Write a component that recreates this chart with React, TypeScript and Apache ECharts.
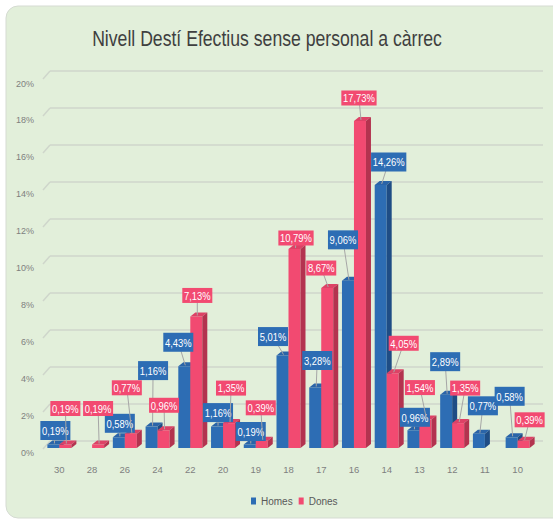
import React, { useEffect, useRef } from "react";
import * as echarts from "echarts";

const categories = ["30", "28", "26", "24", "22", "20", "19", "18", "17", "16", "14", "13", "12", "11", "10"];
const homes = [0.19, 0, 0.58, 1.16, 4.43, 1.16, 0.19, 5.01, 3.28, 9.06, 14.26, 0.96, 2.89, 0.77, 0.58];
const dones = [0.19, 0.19, 0.77, 0.96, 7.13, 1.35, 0.39, 10.79, 8.67, 17.73, 4.05, 1.54, 1.35, 0, 0.39];
const yTicks = [0, 2, 4, 6, 8, 10, 12, 14, 16, 18, 20];

// label box offsets relative to each bar's top centre (layout only)
const homesLabelOffsets = [[2, -14], [0, 0], [1, -14], [1.5, -56], [-6, -24], [1, -14], [1, -13], [-9.5, -19], [2, -27], [-5, -41], [8, -23], [1.5, -13], [-1, -33], [4, -28], [-2, -41]];
const donesLabelOffsets = [[0, -36], [0, -36], [-4, -46], [0.5, -25], [1, -21], [2, -35], [-1, -33], [1.5, -11], [-6, -20], [-1, -23], [11, -30], [-5.5, -32], [7, -35], [0, 0], [6, -21]];

const FONT = "'Liberation Sans', Arial, sans-serif";
const NARROW = 0.82;
const BAR_W = 12;
const DX = 5;
const DY = -4;

const BLUE = { front: "#2d6db4", top: "#2a64a8", side: "#1f4d85" };
const PINK = { front: "#f24a71", top: "#dd4266", side: "#b3334f" };
const GRID_COLOR = "#cfd6cb";

const fmt = (v: number) => v.toFixed(2).replace(".", ",") + "%";

function barSeries(name: string, values: number[], col: typeof BLUE, z: number) {
  return {
    name,
    type: "bar",
    z,
    barWidth: BAR_W,
    barGap: "0%",
    itemStyle: { color: col.front },
    data: values,
  };
}

function faceSeries(name: string, values: number[], col: typeof BLUE, shift: number, z: number) {
  return {
    name: name + " 3d",
    type: "custom",
    z,
    silent: true,
    data: values.map((v, i) => [i, v]),
    encode: { x: 0, y: 1 },
    renderItem: (params: any, api: any) => {
      const v = api.value(1);
      if (!v) return null;
      const top = api.coord([api.value(0), v]);
      const base = api.coord([api.value(0), 0]);
      const x0 = top[0] + shift;
      const t = top[1];
      const b = base[1];
      return {
        type: "group",
        children: [
          {
            type: "polygon",
            shape: { points: [[x0, t], [x0 + BAR_W, t], [x0 + BAR_W + DX, t + DY], [x0 + DX, t + DY]] },
            style: { fill: col.top },
          },
          {
            type: "polygon",
            shape: { points: [[x0 + BAR_W, t], [x0 + BAR_W + DX, t + DY], [x0 + BAR_W + DX, b + DY], [x0 + BAR_W, b]] },
            style: { fill: col.side },
          },
        ],
      };
    },
  };
}

function labelSeries(name: string, values: number[], col: typeof BLUE, shift: number, offsets: number[][], pad: number[]) {
  return {
    name: name + " labels",
    type: "custom",
    z: 10,
    silent: true,
    data: values.map((v, i) => [i, v]),
    encode: { x: 0, y: 1 },
    renderItem: (params: any, api: any) => {
      const v = api.value(1);
      if (!v) return null;
      const i = api.value(0);
      const top = api.coord([i, v]);
      const bx = top[0] + shift + BAR_W / 2;
      const o = offsets[i];
      const lx = bx + o[0];
      const ly = top[1] + o[1];
      return {
        type: "group",
        children: [
          {
            type: "line",
            shape: { x1: bx + 1, y1: top[1] - 1, x2: lx, y2: ly },
            style: { stroke: "#a6a6a6", lineWidth: 1 },
          },
          {
            type: "text",
            x: lx,
            y: ly,
            scaleX: NARROW,
            style: {
              text: fmt(v),
              fill: "#ffffff",
              fontFamily: FONT,
              fontSize: 11.5,
              backgroundColor: col.front,
              padding: pad,
              align: "center",
              verticalAlign: "middle",
            },
          },
        ],
      };
    },
  };
}

// slanted left ends of the back-wall gridlines (perspective)
const wallSeries = {
  name: "wall",
  type: "custom",
  xAxisIndex: 1,
  yAxisIndex: 1,
  z: 1,
  silent: true,
  data: yTicks.map((t) => [0, t]),
  encode: { x: 0, y: 1 },
  renderItem: (params: any, api: any) => {
    const p = api.coord([0, api.value(1)]);
    const left = params.coordSys.x;
    return {
      type: "line",
      shape: { x1: left - 7, y1: p[1] + 8, x2: left, y2: p[1] },
      style: { stroke: GRID_COLOR, lineWidth: 1.5 },
    };
  },
};

export default function App() {
  const ref = useRef<HTMLDivElement>(null);
  useEffect(() => {
    if (!ref.current) return;
    const chart = echarts.init(ref.current, null, { renderer: "svg" });
    chart.setOption({
      animation: false,
      backgroundColor: "#ffffff",
      graphic: [
        {
          type: "rect",
          z: -10,
          shape: { x: 6, y: 6, width: 570, height: 512, r: 12 },
          style: { fill: "#e2efda", stroke: "#d5dbd2", lineWidth: 1 },
        },
        {
          type: "text",
          z: 10,
          x: 267,
          y: 38,
          scaleX: NARROW,
          style: {
            text: "Nivell Destí Efectius sense personal a càrrec",
            fontFamily: FONT,
            fontSize: 21.5,
            fill: "#3f3f3f",
            align: "center",
            verticalAlign: "middle",
          },
        },
      ],
      legend: {
        data: ["Homes", "Dones"],
        left: 246,
        top: 491,
        itemWidth: 5,
        itemHeight: 7,
        itemGap: 6,
        icon: "rect",
        textStyle: { fontFamily: FONT, fontSize: 10, color: "#595959" },
      },
      grid: [
        { left: 43, right: 19, top: 79, bottom: 72 },
        { left: 50, right: 10, top: 71, bottom: 79 },
      ],
      xAxis: [
        {
          type: "category",
          gridIndex: 0,
          data: categories,
          axisLine: { show: false },
          axisTick: { show: false },
          axisLabel: { fontFamily: FONT, fontSize: 9.5, color: "#7f7f7f", margin: 16 },
        },
        { type: "category", gridIndex: 1, data: categories, show: false },
      ],
      yAxis: [
        {
          type: "value",
          gridIndex: 0,
          min: yTicks[0],
          max: yTicks[yTicks.length - 1],
          interval: 2,
          splitLine: { show: false },
          axisLine: { show: false },
          axisTick: { show: false },
          axisLabel: {
            formatter: "{value}%",
            fontFamily: FONT,
            fontSize: 9,
            color: "#7f7f7f",
            margin: 9,
            verticalAlign: "top",
          },
        },
        {
          type: "value",
          gridIndex: 1,
          min: yTicks[0],
          max: yTicks[yTicks.length - 1],
          interval: 2,
          axisLabel: { show: false },
          axisLine: { show: false },
          axisTick: { show: false },
          splitLine: { show: true, lineStyle: { color: GRID_COLOR, width: 1.5 } },
        },
      ],
      series: [
        wallSeries,
        barSeries("Homes", homes, BLUE, 2),
        faceSeries("Homes", homes, BLUE, -BAR_W, 3),
        barSeries("Dones", dones, PINK, 4),
        faceSeries("Dones", dones, PINK, 0, 5),
        labelSeries("Homes", homes, BLUE, -BAR_W, homesLabelOffsets, [4, 2, 3, 2]),
        labelSeries("Dones", dones, PINK, 0, donesLabelOffsets, [2, 2, 1, 2]),
      ],
    });
    return () => chart.dispose();
  }, []);
  return <div ref={ref} style={{ position: "absolute", left: 0, top: 0, width: 553, height: 520 }} />;
}
